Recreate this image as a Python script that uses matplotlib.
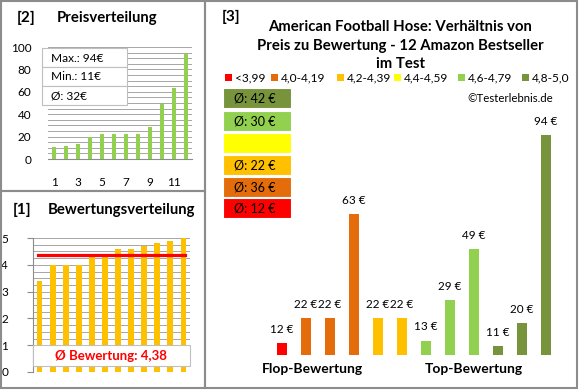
import numpy as np
import matplotlib
matplotlib.use("Agg")
import matplotlib.pyplot as plt
from matplotlib.patches import Rectangle

plt.rcParams['font.family'] = ['Lato', 'DejaVu Sans']

# data (one entry per product, sorted by rating)
prices = [12, 22, 22, 63, 22, 22, 13, 29, 49, 11, 20, 94]
ratings = [3.4, 4.0, 4.0, 4.0, 4.3, 4.3, 4.6, 4.6, 4.7, 4.8, 4.9, 5.0]
groups = [0, 1, 1, 1, 2, 2, 4, 4, 4, 5, 5, 5]
group_labels = ['<3,99', '4,0-4,19', '4,2-4,39', '4,4-4,59', '4,6-4,79', '4,8-5,0']
group_colors = ['#FF0000', '#E46C0A', '#FFC000', '#FFFF00', '#92D050', '#77933C']
avg_rating = 4.38

W, H = 580, 390
fig = plt.figure(figsize=(W / 100, H / 100), dpi=100)


def px_axes(x0, y0, x1, y1):
    return fig.add_axes([x0 / W, 1 - y1 / H, (x1 - x0) / W, (y1 - y0) / H])


# overlay for frames and free text (pixel coordinates)
ov = fig.add_axes([0, 0, 1, 1], zorder=5)
ov.set_xlim(0, W)
ov.set_ylim(H, 0)
ov.axis('off')
ov.patch.set_alpha(0)
grey = '#8c8c8c'
ov.add_patch(Rectangle((1, 1), 204, 190, fill=False, ec=grey, lw=1.5))
ov.add_patch(Rectangle((1, 191), 204, 197, fill=False, ec=grey, lw=1.5))
ov.add_patch(Rectangle((205, 1), 372, 387, fill=False, ec=grey, lw=1.5))

# [2] Preisverteilung
ax = px_axes(48, 47, 192, 159)
xs = np.arange(1, len(prices) + 1)
ax.bar(xs, sorted(prices), width=0.38, color='#92D050', zorder=3)
ax.set_xlim(0.5, 12.5)
ax.set_ylim(0, 100)
ax.set_yticks(range(0, 101, 20))
ax.set_yticks(range(0, 101, 5), minor=True)
ax.set_xticks(range(1, 12, 2))
ax.grid(axis='y', which='both', color='#a6a6a6', lw=0.7, zorder=0)
for s in ['top', 'right', 'left']:
    ax.spines[s].set_visible(False)
ax.spines['bottom'].set_color(grey)
ax.tick_params(axis='x', length=0, pad=13, labelsize=8.5)
ax.tick_params(axis='y', which='both', length=0, pad=12, labelsize=8.5)
ov.text(17, 18, '[2]', fontsize=11, fontweight='bold', va='center')
ov.text(57, 18, 'Preisverteilung', fontsize=10.7, fontweight='bold', va='center')
info = [f'Max.: {max(prices)}€', f'Min.: {min(prices)}€',
        f'Ø: {round(np.mean(prices))}€']
for i, t in enumerate(info):
    y0 = 48 + i * 19
    ov.add_patch(Rectangle((42, y0), 85, 19, fc='white', ec='#bfbfbf', lw=0.8))
    ov.text(51, y0 + 10, t, fontsize=8.6, va='center')

# [1] Bewertungsverteilung
ax2 = px_axes(33, 238, 190, 372)
xs2 = np.arange(1, len(ratings) + 1)
ax2.bar(xs2, ratings, width=0.45, color='#FFC000', zorder=3)
ax2.plot([0.9, 12.1], [avg_rating, avg_rating], color='#FF0000', lw=2.3, zorder=4)
ax2.set_xlim(0.5, 12.5)
ax2.set_ylim(0, 5)
ax2.set_yticks(range(0, 6))
ax2.set_yticks(np.arange(0, 5.01, 0.25), minor=True)
ax2.set_xticks([])
ax2.grid(axis='y', which='both', color='#a6a6a6', lw=0.7, zorder=0)
for s in ['top', 'right', 'bottom']:
    ax2.spines[s].set_visible(False)
ax2.spines['left'].set_color(grey)
ax2.tick_params(axis='y', which='major', length=4, color=grey, pad=14, labelsize=8.5)
ax2.tick_params(axis='y', which='minor', length=0)
ov.text(13, 210, '[1]', fontsize=11, fontweight='bold', va='center')
ov.text(48, 210, 'Bewertungsverteilung', fontsize=10.7, fontweight='bold', va='center')
ov.add_patch(Rectangle((33, 345), 157, 21, fc='white', ec='#bfbfbf', lw=0.8))
ov.text(111, 356, 'Ø Bewertung: ' + f'{avg_rating:.2f}'.replace('.', ','),
        fontsize=9.5, fontweight='bold', color='#FF0000', ha='center', va='center')

# [3] Preis zu Bewertung (value axis starts above zero, as in the original)
ax3 = px_axes(270, 120, 558, 355)
bx = np.arange(len(prices))
bar_colors = [group_colors[g] for g in groups]
ax3.bar(bx, prices, width=0.38, color=bar_colors)
for x, p in zip(bx, prices):
    ax3.annotate(f'{p} €', (x, p), xytext=(0, 6), textcoords='offset points',
                 ha='center', va='bottom', fontsize=8.5)
ax3.set_xlim(-0.5, 11.5)
ax3.set_ylim(7.4, 100)
ax3.axis('off')

ov.text(222, 17, '[3]', fontsize=11, fontweight='bold', va='center')
ov.text(400, 27, 'American Football Hose: Verhältnis von', fontsize=10.7,
        fontweight='bold', ha='center', va='center')
ov.text(400, 46, 'Preis zu Bewertung - 12 Amazon Bestseller', fontsize=10.7,
        fontweight='bold', ha='center', va='center')
ov.text(400, 64, 'im Test', fontsize=10.7, fontweight='bold', ha='center', va='center')

leg_x = [225, 271, 337, 394, 458, 522]
for x, c, lab in zip(leg_x, group_colors, group_labels):
    ov.add_patch(Rectangle((x, 74), 7, 7, fc=c, ec='none'))
    ov.text(x + 10, 77.5, lab, fontsize=8.6, va='center')

ov.text(553, 98, '©Testerlebnis.de', fontsize=8.2, ha='right', va='center')

box_y = [88, 111, 133, 155, 177, 198]
for k, y0 in zip([5, 4, 3, 2, 1, 0], box_y):
    ov.add_patch(Rectangle((223, y0), 68, 20, fc=group_colors[k], ec='white', lw=0.8))
    vals = [p for p, g in zip(prices, groups) if g == k]
    if vals:
        ov.text(234, y0 + 10.5, f'Ø: {round(np.mean(vals))} €', fontsize=9, va='center')

ov.text(312, 369, 'Flop-Bewertung', fontsize=10, fontweight='bold', ha='center', va='center')
ov.text(474, 369, 'Top-Bewertung', fontsize=10, fontweight='bold', ha='center', va='center')

fig.savefig('out.png', dpi=100)
